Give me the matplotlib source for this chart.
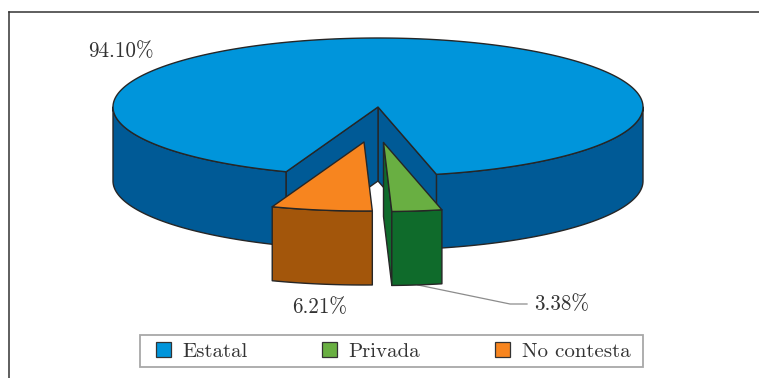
import numpy as np
import matplotlib
matplotlib.use("Agg")
import matplotlib.pyplot as plt
from matplotlib.patches import Patch, Polygon, Rectangle

# values as printed on the chart
categories = ["Estatal", "Privada", "No contesta"]
shares = [94.10, 3.38, 6.21]
share_labels = ["94.10%", "3.38%", "6.21%"]

top_colors = ["#0095DB", "#69AF42", "#F7851F"]
side_colors = ["#005A96", "#0F6B2B", "#A3560B"]

# pixel geometry of the fake 3d pie
CX, CY = 378, 107
RX, RY = 265, 69
DEPTH = 74
START = -88.2
EDGE = "#262626"
SERIF = ["cmr10", "DejaVu Serif"]

plt.rcParams["axes.unicode_minus"] = False
plt.rcParams["axes.formatter.use_mathtext"] = True


def rim(cx, cy, angles):
    rad = np.radians(angles)
    return np.column_stack([cx + RX * np.cos(rad), cy - RY * np.sin(rad)])


def draw_top(ax, cx, cy, a0, a1, color, z):
    n = max(int(abs(a1 - a0)), 2) + 1
    pts = rim(cx, cy, np.linspace(a0, a1, n))
    ax.add_patch(Polygon(np.vstack([[cx, cy], pts]), closed=True, fc=color, ec=EDGE, lw=1, zorder=z, joinstyle="round"))


def draw_wall(ax, cx, cy, a0, a1, color, z):
    # a0, a1 run along the front of the rim (sin < 0)
    n = max(int(abs(a1 - a0)), 2) + 1
    pts = rim(cx, cy, np.linspace(a0, a1, n))
    low = pts[::-1] + [0, DEPTH]
    ax.add_patch(Polygon(np.vstack([pts, low]), closed=True, fc=color, ec=EDGE, lw=1, zorder=z, joinstyle="round"))


def draw_cut(ax, cx, cy, angle, color, z):
    p = rim(cx, cy, [angle])[0]
    pts = [[cx, cy], p, p + [0, DEPTH], [cx, cy + DEPTH]]
    ax.add_patch(Polygon(pts, closed=True, fc=color, ec=EDGE, lw=1, zorder=z, joinstyle="round"))


fig = plt.figure(figsize=(7.59, 3.78), dpi=100)
ax = fig.add_axes([0, 0, 1, 1])
ax.set_xlim(0, 759)
ax.set_ylim(378, 0)
ax.axis("off")

# clipped frame: only top and left edges show
ax.plot([9, 759], [12, 12], color="#333333", lw=1.1, zorder=1)
ax.plot([9, 9], [12, 378], color="#333333", lw=1.1, zorder=1)

sweep = 360 * np.array(shares) / np.sum(shares)
private_end = START + sweep[1] - 0.8
other_start = START - sweep[2] - 0.5

# main slice
draw_wall(ax, CX, CY, private_end, 0, side_colors[0], 2)
draw_wall(ax, CX, CY, -180, other_start, side_colors[0], 2)
draw_cut(ax, CX, CY, private_end, side_colors[0], 3)
draw_cut(ax, CX, CY, other_start, side_colors[0], 3)
draw_top(ax, CX, CY, private_end, other_start + 360, top_colors[0], 4)

# exploded Privada
gx, gy = 383.5, 142.5
draw_cut(ax, gx, gy, START, side_colors[1], 5)
draw_wall(ax, gx, gy, START, private_end, side_colors[1], 6)
draw_top(ax, gx, gy, START, private_end, top_colors[1], 7)

# exploded No contesta
ox, oy = 364, 142
draw_wall(ax, ox, oy, other_start, START, side_colors[2], 8)
draw_top(ax, ox, oy, other_start, START, top_colors[2], 9)

# labels
ax.text(121, 51, share_labels[0], family=SERIF, fontsize=15.2, color="#333333", ha="center", va="center")
ax.text(562, 304, share_labels[1], family=SERIF, fontsize=15.2, color="#333333", ha="center", va="center")
ax.text(320, 307, share_labels[2], family=SERIF, fontsize=15.2, color="#333333", ha="center", va="center")
ax.plot([418, 510, 527], [285, 304, 304], color="#8c8c8c", lw=0.9, zorder=3)

# legend box is drawn apart so its padding can differ per side
ax.add_patch(Rectangle((140, 335), 503, 32, fc="white", ec="#a8a8a8", lw=1.3, zorder=10))
handles = [Patch(fc=c, ec="#333333", lw=0.9) for c in top_colors]
leg = ax.legend(
    handles, categories,
    loc="center", bbox_to_anchor=(393 / 759, 1 - 351.5 / 378),
    ncol=3, frameon=False,
    prop={"family": SERIF, "size": 15}, labelcolor="#333333",
    handlelength=0.72, handleheight=0.72, handletextpad=0.55,
    columnspacing=3.6, borderpad=0, borderaxespad=0,
)
leg.set_zorder(11)

fig.savefig("out.png", dpi=100)
plt.close("all")
